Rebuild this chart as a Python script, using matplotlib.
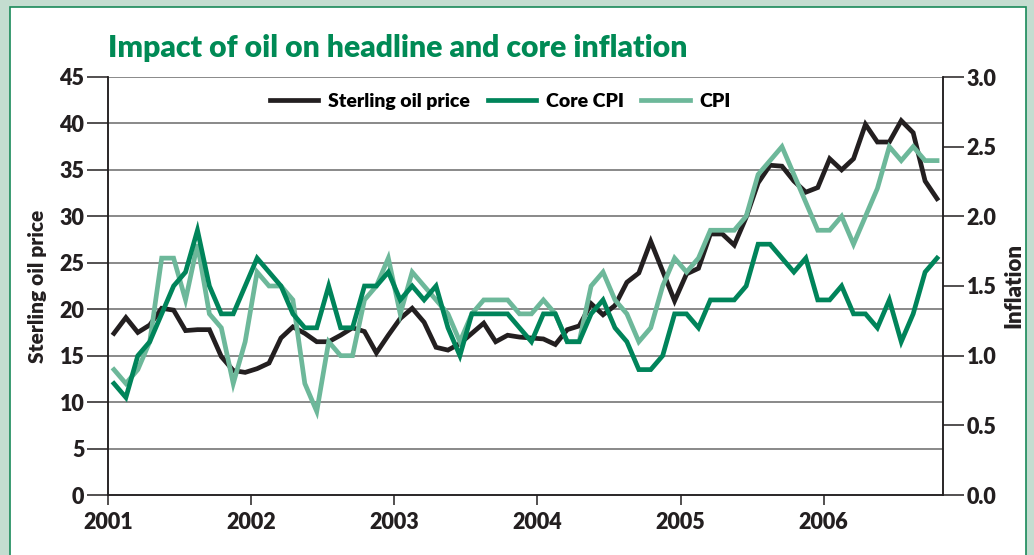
import matplotlib
matplotlib.use("Agg")
import matplotlib.pyplot as plt
from matplotlib.patches import Rectangle
import numpy as np

# monthly data, Jan 2001 - Oct 2006
oil_price = [17.4, 19.1, 17.5, 18.3, 20.1, 19.9, 17.7, 17.8, 17.8, 14.9, 13.4, 13.2,
             13.6, 14.2, 16.9, 18.1, 17.4, 16.5, 16.5, 17.2, 18.0, 17.6, 15.3, 17.2,
             19.0, 20.1, 18.6, 15.9, 15.6, 16.3, 17.4, 18.5, 16.5, 17.2, 17.0, 16.9,
             16.8, 16.2, 17.8, 18.2, 20.6, 19.4, 20.4, 22.9, 23.9, 27.3, 24.1, 20.9,
             23.8, 24.4, 28.1, 28.1, 26.9, 29.9, 33.6, 35.5, 35.4, 33.8, 32.6, 33.1,
             36.2, 35.0, 36.2, 39.9, 38.0, 38.0, 40.3, 39.0, 33.8, 31.9]
core_cpi = [0.8, 0.7, 1.0, 1.1, 1.3, 1.5, 1.6, 1.9, 1.5, 1.3, 1.3, 1.5,
            1.7, 1.6, 1.5, 1.3, 1.2, 1.2, 1.5, 1.2, 1.2, 1.5, 1.5, 1.6,
            1.4, 1.5, 1.4, 1.5, 1.2, 1.0, 1.3, 1.3, 1.3, 1.3, 1.2, 1.1,
            1.3, 1.3, 1.1, 1.1, 1.3, 1.4, 1.2, 1.1, 0.9, 0.9, 1.0, 1.3,
            1.3, 1.2, 1.4, 1.4, 1.4, 1.5, 1.8, 1.8, 1.7, 1.6, 1.7, 1.4,
            1.4, 1.5, 1.3, 1.3, 1.2, 1.4, 1.1, 1.3, 1.6, 1.7]
cpi = [0.9, 0.8, 0.9, 1.1, 1.7, 1.7, 1.4, 1.8, 1.3, 1.2, 0.8, 1.1,
       1.6, 1.5, 1.5, 1.4, 0.8, 0.6, 1.1, 1.0, 1.0, 1.4, 1.5, 1.7,
       1.3, 1.6, 1.5, 1.4, 1.3, 1.1, 1.3, 1.4, 1.4, 1.4, 1.3, 1.3,
       1.4, 1.3, 1.1, 1.1, 1.5, 1.6, 1.4, 1.3, 1.1, 1.2, 1.5, 1.7,
       1.6, 1.7, 1.9, 1.9, 1.9, 2.0, 2.3, 2.4, 2.5, 2.3, 2.1, 1.9,
       1.9, 2.0, 1.8, 2.0, 2.2, 2.5, 2.4, 2.5, 2.4, 2.4]
years = ['2001', '2002', '2003', '2004', '2005', '2006']

months = np.arange(len(oil_price)) + 0.5

BLACK = '#231f20'
DARK = '#00845a'
LIGHT = '#6db89a'
BAND = '#c4ddd0'

plt.rcParams['font.family'] = ['Lato', 'DejaVu Sans']
plt.rcParams['font.weight'] = 'bold'

fig = plt.figure(figsize=(10.34, 5.55), dpi=100)
fig.patch.set_facecolor(BAND)
W, H = 1034, 555
fig.patches.append(Rectangle((10 / W, -0.05), 1016 / W, (H - 7) / H + 0.05,
                             transform=fig.transFigure, facecolor='white',
                             edgecolor='#1a8a5a', lw=1.2, zorder=-10))

ax = fig.add_axes([108 / W, 1 - 495 / H, (943 - 108) / W, (495 - 77) / H])
ax2 = ax.twinx()

ax.plot(months, oil_price, color=BLACK, lw=3.4, label='Sterling oil price',
        solid_joinstyle='miter')
ax2.plot(months, cpi, color=LIGHT, lw=3.4, label='CPI', solid_joinstyle='miter')
ax2.plot(months, core_cpi, color=DARK, lw=3.4, label='Core CPI',
         solid_joinstyle='miter')

ax.set_xlim(0, 70)
ax.set_ylim(0, 45)
ax2.set_ylim(0, 3)
ax.set_yticks(np.arange(0, 46, 5))
ax2.set_yticks(np.arange(0, 3.01, 0.5))
ax2.set_yticklabels([f'{v:.1f}' for v in np.arange(0, 3.01, 0.5)])
ax.set_xticks(np.arange(0, 61, 12))
ax.set_xticklabels(years)

for v in range(5, 46, 5):
    ax.axhline(v, color='#6a6a6a', lw=1.1, zorder=0)

for a in (ax, ax2):
    for s in a.spines.values():
        s.set_color(BLACK)
        s.set_linewidth(1.1)
    a.spines['top'].set_visible(False)
ax.tick_params(axis='y', length=15, width=1.1, pad=2, labelsize=15.5, colors=BLACK)
ax.tick_params(axis='x', length=7, width=1.1, pad=5, labelsize=15.5, colors=BLACK)
ax2.tick_params(axis='y', length=15, width=1.1, pad=2, labelsize=15.5, colors=BLACK)
for lbl in ax.get_xticklabels() + ax.get_yticklabels() + ax2.get_yticklabels():
    lbl.set_fontweight('heavy')
ax.set_facecolor('white')

ax.set_ylabel('Sterling oil price', fontsize=15, fontweight='heavy', labelpad=9,
              color=BLACK)
ax2.set_ylabel('Inflation', fontsize=16, fontweight='heavy', labelpad=5,
               color=BLACK)

h1, l1 = ax.get_legend_handles_labels()
h2, l2 = ax2.get_legend_handles_labels()
handles = [h1[0], h2[1], h2[0]]
labels = [l1[0], l2[1], l2[0]]
leg = ax2.legend(handles, labels, loc='upper center', bbox_to_anchor=(0.47, 1.0),
                 ncol=3, frameon=False, handlelength=2.5,
                 columnspacing=0.9, handletextpad=0.5, borderaxespad=0.4,
                 prop={'weight': 'heavy', 'size': 14})

fig.text(108 / W, 1 - 48 / H, 'Impact of oil on headline and core inflation',
         color='#008a55', fontsize=21.7, fontweight='heavy', va='center', ha='left')

fig.savefig('out.png', dpi=100, facecolor=fig.get_facecolor())
